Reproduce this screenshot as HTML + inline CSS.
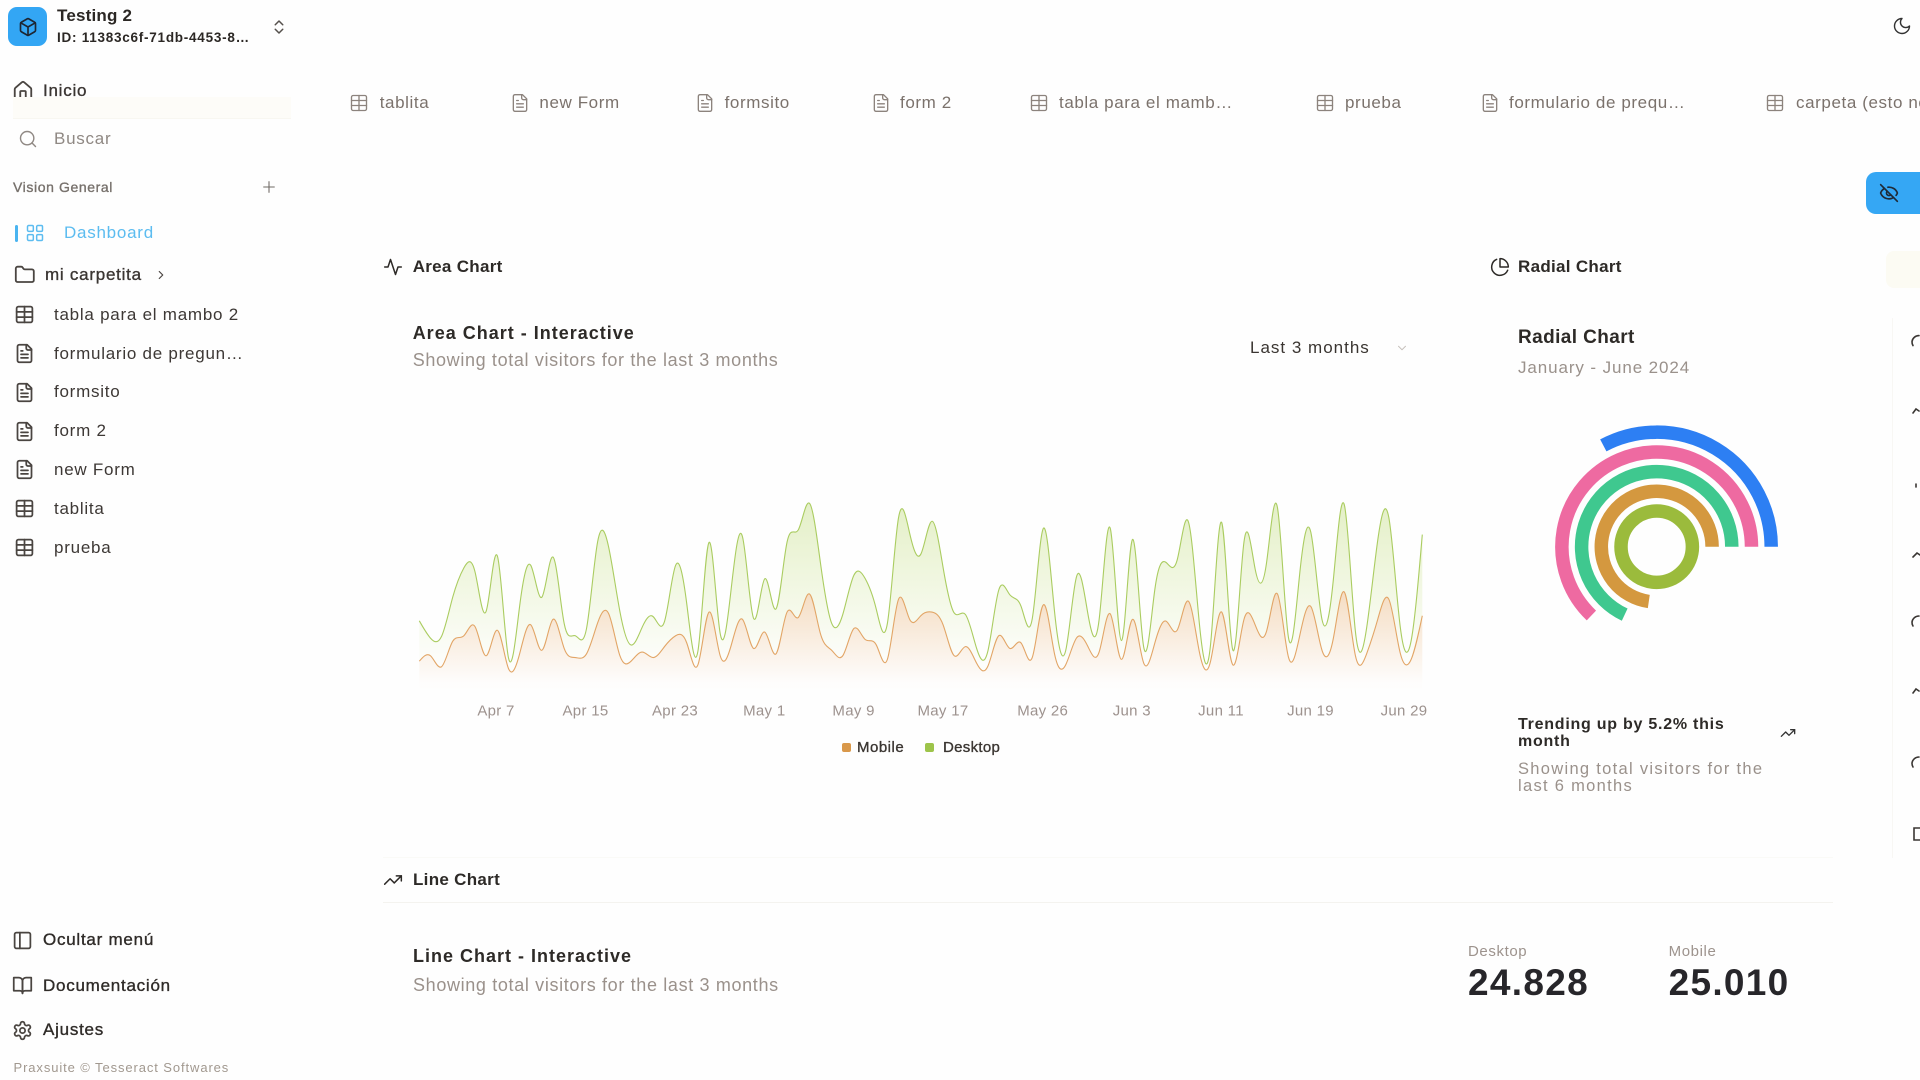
<!DOCTYPE html>
<html><head><meta charset="utf-8">
<style>
html,body{margin:0;padding:0}
body{width:1920px;height:1080px;overflow:hidden;background:#fefefe;position:relative;font-family:"Liberation Sans",sans-serif;color:#2c2825}
.t{position:absolute;white-space:nowrap;line-height:20px;height:20px}
.ic{position:absolute;fill:none;stroke:currentColor;stroke-width:2;stroke-linecap:round;stroke-linejoin:round;overflow:visible}
.side{font-size:17px;letter-spacing:0.75px;color:#3d3835}
.med{-webkit-text-stroke:0.35px currentColor}
.tab{font-size:17px;letter-spacing:0.6px;color:#7b726c;top:93px}
.tabic{color:#8c837d;stroke-width:1.6;width:20px;height:20px;top:93px}
.sic{color:#4a4541;width:21px;height:21px}
</style></head><body>
<svg width="0" height="0" style="position:absolute">
<defs>
<symbol id="i-table" viewBox="0 0 24 24"><rect x="3" y="3" width="18" height="18" rx="2"/><path d="M3 9h18M3 15h18M12 3v18"/></symbol>
<symbol id="i-file" viewBox="0 0 24 24"><path d="M15 2H6a2 2 0 0 0-2 2v16a2 2 0 0 0 2 2h12a2 2 0 0 0 2-2V7Z"/><path d="M14 2v4a2 2 0 0 0 2 2h4"/><path d="M10 9H8M16 13H8M16 17H8"/></symbol>
<symbol id="i-home" viewBox="0 0 24 24"><path d="M15 21v-8a1 1 0 0 0-1-1h-4a1 1 0 0 0-1 1v8"/><path d="M3 10a2 2 0 0 1 .709-1.528l7-5.999a2 2 0 0 1 2.582 0l7 5.999A2 2 0 0 1 21 10v9a2 2 0 0 1-2 2H5a2 2 0 0 1-2-2z"/></symbol>
<symbol id="i-search" viewBox="0 0 24 24"><circle cx="11" cy="11" r="8"/><path d="m21 21-4.3-4.3"/></symbol>
<symbol id="i-folder" viewBox="0 0 24 24"><path d="M20 20a2 2 0 0 0 2-2V8a2 2 0 0 0-2-2h-7.9a2 2 0 0 1-1.69-.9L9.6 3.9A2 2 0 0 0 7.930 3H4a2 2 0 0 0-2 2v13a2 2 0 0 0 2 2Z"/></symbol>
<symbol id="i-grid" viewBox="0 0 24 24"><rect x="3" y="3" width="7" height="7" rx="1.5"/><rect x="14" y="3" width="7" height="7" rx="1.5"/><rect x="14" y="14" width="7" height="7" rx="1.5"/><rect x="3" y="14" width="7" height="7" rx="1.5"/></symbol>
<symbol id="i-panel" viewBox="0 0 24 24"><rect x="3" y="3" width="18" height="18" rx="2"/><path d="M9 3v18"/></symbol>
<symbol id="i-book" viewBox="0 0 24 24"><path d="M2 3h6a4 4 0 0 1 4 4v14a3 3 0 0 0-3-3H2z"/><path d="M22 3h-6a4 4 0 0 0-4 4v14a3 3 0 0 1 3-3h7z"/></symbol>
<symbol id="i-gear" viewBox="0 0 24 24"><path d="M12.22 2h-.44a2 2 0 0 0-2 2v.18a2 2 0 0 1-1 1.73l-.43.25a2 2 0 0 1-2 0l-.15-.08a2 2 0 0 0-2.73.73l-.22.38a2 2 0 0 0 .73 2.73l.15.1a2 2 0 0 1 1 1.72v.51a2 2 0 0 1-1 1.74l-.15.09a2 2 0 0 0-.73 2.73l.22.38a2 2 0 0 0 2.73.73l.15-.08a2 2 0 0 1 2 0l.43.25a2 2 0 0 1 1 1.73V20a2 2 0 0 0 2 2h.44a2 2 0 0 0 2-2v-.18a2 2 0 0 1 1-1.73l.43-.25a2 2 0 0 1 2 0l.15.08a2 2 0 0 0 2.73-.73l.22-.39a2 2 0 0 0-.73-2.73l-.15-.08a2 2 0 0 1-1-1.74v-.5a2 2 0 0 1 1-1.74l.15-.09a2 2 0 0 0 .73-2.73l-.22-.38a2 2 0 0 0-2.73-.73l-.15.08a2 2 0 0 1-2 0l-.43-.25a2 2 0 0 1-1-1.73V4a2 2 0 0 0-2-2z"/><circle cx="12" cy="12" r="3"/></symbol>
<symbol id="i-trend" viewBox="0 0 24 24"><path d="M22 7 13.5 15.5 8.5 10.5 2 17"/><path d="M16 7h6v6"/></symbol>
</defs></svg>

<!-- Sidebar header -->
<div style="position:absolute;left:8px;top:7px;width:39px;height:39px;border-radius:9px;background:#33a6f4"></div>
<svg class="ic" style="left:17.5px;top:16.5px;width:20px;height:20px;color:#1d2633" viewBox="0 0 24 24"><path d="M21 8a2 2 0 0 0-1-1.73l-7-4a2 2 0 0 0-2 0l-7 4A2 2 0 0 0 3 8v8a2 2 0 0 0 1 1.73l7 4a2 2 0 0 0 2 0l7-4A2 2 0 0 0 21 16Z"/><path d="m3.3 7 8.7 5 8.7-5M12 22V12"/></svg>
<div class="t" style="left:57px;top:6px;font-size:17px;font-weight:bold;letter-spacing:0.2px;color:#2b2724">Testing 2</div>
<div class="t" style="left:57px;top:27.8px;font-size:13.5px;font-weight:bold;letter-spacing:0.75px;color:#2b2724">ID: 11383c6f-71db-4453-8…</div>
<svg class="ic" style="left:270px;top:18px;width:18px;height:18px;color:#55504c" viewBox="0 0 24 24"><path d="m7 15 5 5 5-5M7 9l5-5 5 5"/></svg>

<!-- Inicio -->
<svg class="ic sic" style="left:12.3px;top:79.5px;width:22px;height:22px"><use href="#i-home"/></svg>
<div class="t side med" style="left:43px;top:80.7px;color:#3b3633">Inicio</div>
<div style="position:absolute;left:13px;top:97px;width:278px;height:21px;background:#fdfcf8;border-bottom:1px solid #f8f7f1"></div>
<svg class="ic" style="left:17.5px;top:128.7px;width:20px;height:20px;color:#8f8883;stroke-width:1.7"><use href="#i-search"/></svg>
<div class="t side" style="left:54px;top:128.7px;color:#8f8883">Buscar</div>

<div class="t med" style="left:13px;top:176.7px;font-size:14px;letter-spacing:0.6px;color:#77716c">Vision General</div>
<svg class="ic" style="left:261px;top:179px;width:16px;height:16px;color:#6f6964;stroke-width:1.6" viewBox="0 0 24 24"><path d="M12 4v16M4 12h16"/></svg>

<div style="position:absolute;left:14.5px;top:225px;width:3px;height:17px;border-radius:2px;background:#4ab4f0"></div>
<svg class="ic" style="left:24.5px;top:223px;width:20px;height:20px;color:#5cbcf0;stroke-width:1.8"><use href="#i-grid"/></svg>
<div class="t side" style="left:64px;top:223px;color:#5cbcf0">Dashboard</div>

<svg class="ic sic" style="left:14.2px;top:264px;width:21.6px;height:21.6px"><use href="#i-folder"/></svg>
<div class="t side med" style="left:45px;top:264.7px;color:#3b3633">mi carpetita</div>
<svg class="ic" style="left:154px;top:267.7px;width:14px;height:14px;color:#4a4541" viewBox="0 0 24 24"><path d="m9 18 6-6-6-6"/></svg>

<svg class="ic sic" style="left:14.4px;top:304.2px"><use href="#i-table"/></svg>
<div class="t side" style="left:54px;top:304.7px">tabla para el mambo 2</div>
<svg class="ic sic" style="left:14.4px;top:343px"><use href="#i-file"/></svg>
<div class="t side" style="left:54px;top:343.5px">formulario de pregun…</div>
<svg class="ic sic" style="left:14.4px;top:381.8px"><use href="#i-file"/></svg>
<div class="t side" style="left:54px;top:382.3px">formsito</div>
<svg class="ic sic" style="left:14.4px;top:420.6px"><use href="#i-file"/></svg>
<div class="t side" style="left:54px;top:421.1px">form 2</div>
<svg class="ic sic" style="left:14.4px;top:459.4px"><use href="#i-file"/></svg>
<div class="t side" style="left:54px;top:459.9px">new Form</div>
<svg class="ic sic" style="left:14.4px;top:498.2px"><use href="#i-table"/></svg>
<div class="t side" style="left:54px;top:498.7px">tablita</div>
<svg class="ic sic" style="left:14.4px;top:537px"><use href="#i-table"/></svg>
<div class="t side" style="left:54px;top:537.5px">prueba</div>

<!-- Sidebar bottom -->
<svg class="ic sic" style="left:12.4px;top:929.5px"><use href="#i-panel"/></svg>
<div class="t side med" style="left:43px;top:930px;color:#2f2b28">Ocultar menú</div>
<svg class="ic sic" style="left:12.4px;top:975.2px"><use href="#i-book"/></svg>
<div class="t side med" style="left:43px;top:975.7px;color:#2f2b28">Documentación</div>
<svg class="ic sic" style="left:12.4px;top:1019.5px"><use href="#i-gear"/></svg>
<div class="t side med" style="left:43px;top:1020px;color:#2f2b28">Ajustes</div>
<div class="t" style="left:13.5px;top:1058px;font-size:13px;letter-spacing:0.9px;color:#a1988f">Praxsuite © Tesseract Softwares</div>

<!-- Tabs -->
<svg class="ic tabic" style="left:349px"><use href="#i-table"/></svg>
<div class="t tab" style="left:379.7px">tablita</div>
<svg class="ic tabic" style="left:509.5px"><use href="#i-file"/></svg>
<div class="t tab" style="left:539.4px">new Form</div>
<svg class="ic tabic" style="left:695px"><use href="#i-file"/></svg>
<div class="t tab" style="left:724.6px">formsito</div>
<svg class="ic tabic" style="left:871px"><use href="#i-file"/></svg>
<div class="t tab" style="left:900px">form 2</div>
<svg class="ic tabic" style="left:1029px"><use href="#i-table"/></svg>
<div class="t tab" style="left:1059px">tabla para el mamb…</div>
<svg class="ic tabic" style="left:1315px"><use href="#i-table"/></svg>
<div class="t tab" style="left:1345px">prueba</div>
<svg class="ic tabic" style="left:1479.5px"><use href="#i-file"/></svg>
<div class="t tab" style="left:1509px">formulario de prequ…</div>
<svg class="ic tabic" style="left:1764.5px"><use href="#i-table"/></svg>
<div class="t tab" style="left:1796px;width:124px;overflow:hidden">carpeta (esto no</div>

<!-- Moon -->
<svg class="ic" style="left:1892px;top:16px;width:20px;height:20px;color:#333;stroke-width:1.7" viewBox="0 0 24 24"><path d="M12 3a6 6 0 0 0 9 9 9 9 0 1 1-9-9Z"/></svg>

<!-- Right edge -->
<div style="position:absolute;left:1866px;top:172px;width:54px;height:42px;border-radius:10px 0 0 10px;background:#35a7f4"></div>
<svg class="ic" style="left:1879px;top:183px;width:20px;height:20px;color:#1f2a36;stroke-width:2" viewBox="0 0 24 24"><path d="M10.733 5.076a10.744 10.744 0 0 1 11.205 6.575 1 1 0 0 1 0 .696 10.747 10.747 0 0 1-1.444 2.49"/><path d="M14.084 14.158a3 3 0 0 1-4.242-4.242"/><path d="M17.479 17.499a10.75 10.75 0 0 1-15.417-5.151 1 1 0 0 1 0-.696 10.75 10.75 0 0 1 4.446-5.143"/><path d="m2 2 20 20"/></svg>
<div style="position:absolute;left:1886px;top:251px;width:34px;height:37px;border-radius:8px 0 0 8px;background:#fcfbf3"></div>
<div style="position:absolute;left:1892px;top:318px;width:1px;height:540px;background:#f8f7f4"></div>
<svg style="position:absolute;left:1900px;top:320px;width:20px;height:540px;overflow:hidden" fill="none" stroke="#3a3633" stroke-width="1.6" stroke-linecap="round">
 <path d="M19 15.6 a7 7 0 0 0 -7 6 a7 7 0 0 0 1 4"/>
 <path d="M13 93 l3 -4 l3 2"/>
 <path d="M16 164 v3"/>
 <path d="M13 237 l4 -4 l3 2"/>
 <path d="M19 296 a7 7 0 0 0 -7 6 a7 7 0 0 0 1 4"/>
 <path d="M13 373 l3 -4 l3 2"/>
 <path d="M19 437 a7 7 0 0 0 -7 6 a7 7 0 0 0 1 4"/>
 <path d="M20 508 h-6 v12 h6"/>
</svg>

<!-- Area Chart section -->
<svg class="ic" style="left:383.3px;top:256.7px;width:20px;height:20px;color:#2d2a27;stroke-width:1.8" viewBox="0 0 24 24"><path d="M22 12h-4l-3 9L9 3l-3 9H2"/></svg>
<div class="t" style="left:412.7px;top:256.7px;font-size:17px;font-weight:bold;letter-spacing:0.3px;color:#2d2a27">Area Chart</div>
<div class="t" style="left:412.7px;top:323.3px;font-size:18px;font-weight:bold;letter-spacing:1px;color:#2d2a27">Area Chart - Interactive</div>
<div class="t" style="left:412.7px;top:350px;font-size:18px;letter-spacing:0.65px;color:#9a918b">Showing total visitors for the last 3 months</div>
<div class="t" style="left:1250px;top:338px;font-size:17px;letter-spacing:1px;color:#3a3531">Last 3 months</div>
<svg class="ic" style="left:1395px;top:341px;width:14px;height:14px;color:#c5bfba;stroke-width:1.6" viewBox="0 0 24 24"><path d="m6 9 6 6 6-6"/></svg>

<svg id="chart" style="position:absolute;left:0;top:0;width:1920px;height:1080px;overflow:hidden" viewBox="0 0 1920 1080">
 <defs>
  <linearGradient id="fD" x1="0" y1="0" x2="0" y2="1"><stop offset="5%" stop-color="#b0d35a" stop-opacity="0.8"/><stop offset="95%" stop-color="#b8d860" stop-opacity="0.04"/></linearGradient>
  <linearGradient id="fM" x1="0" y1="0" x2="0" y2="1"><stop offset="5%" stop-color="#e39f55" stop-opacity="0.8"/><stop offset="95%" stop-color="#e39f55" stop-opacity="0.02"/></linearGradient>
 </defs>
 <path id="aM" fill="url(#fM)" fill-opacity="0.42" stroke="none"/>
 <path id="aD" fill="url(#fD)" fill-opacity="0.4" stroke="none"/>
 <path id="lM" fill="none" stroke="#e2a566" stroke-width="1.1"/>
 <path id="lD" fill="none" stroke="#aacc60" stroke-width="1.1"/>
 <g font-family="Liberation Sans, sans-serif" font-size="15" fill="#9d928e" text-anchor="middle" letter-spacing="0.3">
  <text x="496" y="715.3">Apr 7</text>
  <text x="585.5" y="715.3">Apr 15</text>
  <text x="675" y="715.3">Apr 23</text>
  <text x="764.3" y="715.3">May 1</text>
  <text x="853.6" y="715.3">May 9</text>
  <text x="943" y="715.3">May 17</text>
  <text x="1042.7" y="715.3">May 26</text>
  <text x="1131.8" y="715.3">Jun 3</text>
  <text x="1221" y="715.3">Jun 11</text>
  <text x="1310.5" y="715.3">Jun 19</text>
  <text x="1404" y="715.3">Jun 29</text>
 </g>
 <!-- Radial chart -->
 <g fill="none" stroke-width="13.5" stroke-linecap="butt">
  <circle cx="1656.7" cy="546.7" r="35.7" stroke="#9bbb3c"/>
  <path d="M1712.1 546.7 A55.4 55.4 0 1 0 1648.8 601.5" stroke="#d4983f"/>
  <path d="M1731.8 546.7 A75.1 75.1 0 1 0 1624.7 614.65" stroke="#3fc88f"/>
  <path d="M1751.5 546.7 A94.8 94.8 0 1 0 1591.4 615.5" stroke="#ee6aa1"/>
  <path d="M1771.2 546.7 A114.5 114.5 0 0 0 1603.3 445.4" stroke="#2d7ff3"/>
 </g>
</svg>

<!-- Legend -->
<div style="position:absolute;left:842px;top:743px;width:9px;height:9px;border-radius:2px;background:#d9984a"></div>
<div class="t med" style="left:857px;top:738px;font-size:15px;letter-spacing:0.5px;color:#3b3632">Mobile</div>
<div style="position:absolute;left:925px;top:743px;width:9px;height:9px;border-radius:2px;background:#9dc44a"></div>
<div class="t med" style="left:943px;top:738px;font-size:15px;letter-spacing:0.3px;color:#3b3632">Desktop</div>

<!-- Radial section -->
<svg class="ic" style="left:1489.5px;top:256.5px;width:20px;height:20px;color:#2d2a27;stroke-width:1.8" viewBox="0 0 24 24"><path d="M21.21 15.89A10 10 0 1 1 8 2.83"/><path d="M22 12A10 10 0 0 0 12 2v10z"/></svg>
<div class="t" style="left:1518px;top:256.5px;font-size:17px;font-weight:bold;letter-spacing:0.3px;color:#2d2a27">Radial Chart</div>
<div class="t" style="left:1518px;top:327.5px;font-size:19px;font-weight:bold;letter-spacing:0.4px;color:#2d2a27">Radial Chart</div>
<div class="t" style="left:1518px;top:357.5px;font-size:17px;letter-spacing:0.9px;color:#9a918b">January - June 2024</div>
<div class="t" style="left:1518px;top:715px;font-size:16px;font-weight:bold;letter-spacing:0.75px;color:#2d2a27">Trending up by 5.2% this</div>
<div class="t" style="left:1518px;top:731.7px;font-size:16px;font-weight:bold;letter-spacing:0.75px;color:#2d2a27">month</div>
<svg class="ic" style="left:1780px;top:725px;width:16px;height:16px;color:#333;stroke-width:2"><use href="#i-trend"/></svg>
<div class="t" style="left:1518px;top:759px;font-size:16.5px;letter-spacing:1.3px;color:#9a918b">Showing total visitors for the</div>
<div class="t" style="left:1518px;top:775.7px;font-size:16.5px;letter-spacing:1.3px;color:#9a918b">last 6 months</div>

<!-- Line Chart section -->
<div style="position:absolute;left:383px;top:857px;width:1450px;height:1px;background:#fafaf7"></div>
<div style="position:absolute;left:383px;top:902px;width:1450px;height:1px;background:#f4f3ef"></div>
<svg class="ic" style="left:383px;top:870px;width:20px;height:20px;color:#2d2a27;stroke-width:1.8"><use href="#i-trend"/></svg>
<div class="t" style="left:413px;top:870px;font-size:17px;font-weight:bold;letter-spacing:0.3px;color:#2d2a27">Line Chart</div>
<div class="t" style="left:413px;top:946.3px;font-size:18px;font-weight:bold;letter-spacing:1px;color:#2d2a27">Line Chart - Interactive</div>
<div class="t" style="left:413px;top:974.5px;font-size:18px;letter-spacing:0.65px;color:#9a918b">Showing total visitors for the last 3 months</div>
<div class="t" style="left:1468px;top:941.7px;font-size:15px;letter-spacing:0.6px;color:#9d938d">Desktop</div>
<div class="t" style="left:1468px;top:962px;font-size:37px;line-height:42px;height:42px;font-weight:bold;letter-spacing:1.3px;color:#27262a">24.828</div>
<div class="t" style="left:1668.6px;top:941.7px;font-size:15px;letter-spacing:0.6px;color:#9d938d">Mobile</div>
<div class="t" style="left:1668.6px;top:962px;font-size:37px;line-height:42px;height:42px;font-weight:bold;letter-spacing:1.3px;color:#27262a">25.010</div>

<script>
(function(){
var D=[[222,150],[97,180],[167,120],[242,260],[373,290],[301,340],[245,180],[409,320],[59,110],[261,190],[327,350],[292,210],[342,380],[137,220],[120,170],[138,190],[446,360],[364,410],[243,180],[89,150],[137,200],[224,170],[138,230],[387,290],[215,250],[75,130],[383,420],[122,180],[315,240],[454,380],
[165,220],[293,310],[247,190],[385,420],[481,390],[498,520],[388,300],[149,210],[227,180],[293,330],[335,270],[197,240],[197,160],[448,490],[473,380],[338,400],[499,420],[315,350],[235,180],[177,230],[82,140],[81,120],[252,290],[294,220],[201,250],[213,170],[420,460],[233,190],[78,130],[340,280],[178,230],
[178,200],[470,410],[103,160],[439,380],[88,140],[294,250],[323,370],[385,320],[438,480],[155,200],[92,150],[492,420],[81,130],[426,380],[307,350],[371,310],[475,520],[107,170],[341,290],[408,450],[169,210],[317,270],[480,530],[132,180],[141,190],[434,380],[448,490],[149,200],[103,160],[446,400]];
var X0=419.3,X1=1422.3,Y0=688.5,K=0.182;
var n=D.length,DX=(X1-X0)/(n-1);
var xs=[],ym=[],yt=[];
for(var i=0;i<n;i++){xs.push(X0+i*DX);ym.push(Y0-K*D[i][1]);yt.push(Y0-K*(D[i][0]+D[i][1]));}
function cp(x){var n=x.length-1,a=new Array(n),b=new Array(n),r=new Array(n),i,m;
a[0]=0;b[0]=2;r[0]=x[0]+2*x[1];
for(i=1;i<n-1;++i){a[i]=1;b[i]=4;r[i]=4*x[i]+2*x[i+1];}
a[n-1]=2;b[n-1]=7;r[n-1]=8*x[n-1]+x[n];
for(i=1;i<n;++i){m=a[i]/b[i-1];b[i]-=m;r[i]-=m*r[i-1];}
a[n-1]=r[n-1]/b[n-1];
for(i=n-2;i>=0;--i)a[i]=(r[i]-a[i+1])/b[i];
b[n-1]=(x[n]+a[n-1])/2;
for(i=0;i<n-1;++i)b[i]=2*x[i+1]-a[i+1];
return [a,b];}
function f(v){return v.toFixed(2);}
function curve(px,py){var cx=cp(px),cy=cp(py),s='';
for(var i=0;i<px.length-1;i++){s+='C'+f(cx[0][i])+','+f(cy[0][i])+' '+f(cx[1][i])+','+f(cy[1][i])+' '+f(px[i+1])+','+f(py[i+1]);}
return s;}
var mC='M'+f(xs[0])+','+f(ym[0])+curve(xs,ym);
var tC='M'+f(xs[0])+','+f(yt[0])+curve(xs,yt);
var rx=xs.slice().reverse(),rm=ym.slice().reverse();
document.getElementById('lM').setAttribute('d',mC);
document.getElementById('lD').setAttribute('d',tC);
document.getElementById('aM').setAttribute('d',mC+'L'+f(X1)+','+Y0+'L'+f(X0)+','+Y0+'Z');
document.getElementById('aD').setAttribute('d',tC+'L'+f(rx[0])+','+f(rm[0])+curve(rx,rm)+'Z');
})();
</script>
</body></html>
